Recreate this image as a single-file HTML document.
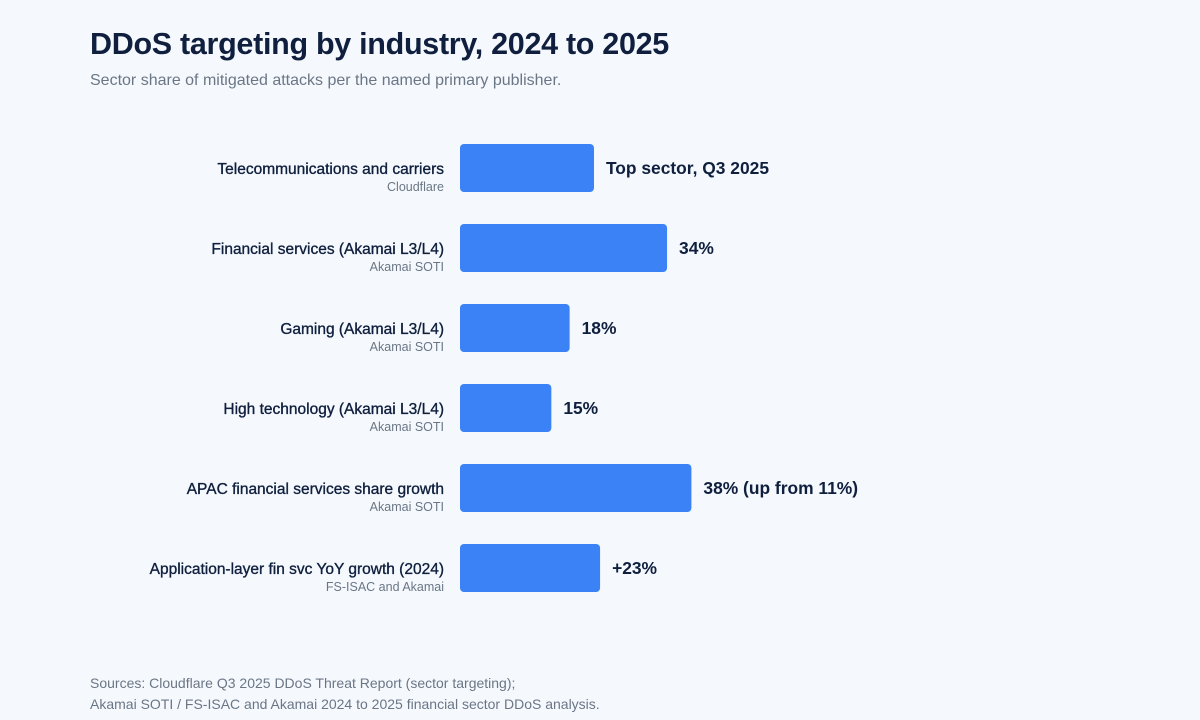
<!DOCTYPE html>
<html><head><meta charset="utf-8"><style>
html,body{margin:0;padding:0;}
body{width:1200px;height:720px;background:#f5f9fe;font-family:"Liberation Sans",Arial,sans-serif;position:relative;overflow:hidden;}
.title{position:absolute;left:90px;top:27px;font-size:30.5px;font-weight:bold;color:#0f1f3d;letter-spacing:-0.3px;margin:0;}
.sub{position:absolute;left:90px;top:72px;font-size:16px;color:#6b7685;}
.foot{position:absolute;left:90px;top:673px;font-size:14px;line-height:21px;color:#6b7685;}
svg{position:absolute;left:0;top:0;}
</style></head><body>
<h1 class="title">DDoS targeting by industry, 2024 to 2025</h1>
<div class="sub">Sector share of mitigated attacks per the named primary publisher.</div>
<svg id="chart" width="1200" height="720"></svg>
<div class="foot">Sources: Cloudflare Q3 2025 DDoS Threat Report (sector targeting);<br>Akamai SOTI / FS-ISAC and Akamai 2024 to 2025 financial sector DDoS analysis.</div>
<script>
const categories=["Telecommunications and carriers","Financial services (Akamai L3/L4)","Gaming (Akamai L3/L4)","High technology (Akamai L3/L4)","APAC financial services share growth","Application-layer fin svc YoY growth (2024)"];
const publishers=["Cloudflare","Akamai SOTI","Akamai SOTI","Akamai SOTI","Akamai SOTI","FS-ISAC and Akamai"];
const values=[22,34,18,15,38,23];
const valueLabels=["Top sector, Q3 2025","34%","18%","15%","38% (up from 11%)","+23%"];
const NS="http://www.w3.org/2000/svg";
const svg=document.getElementById('chart');
const x0=460,pxPer=6.09;
const xScale=v=>v*pxPer;
const yCenter=i=>168+i*80;
const barH=48;
function mk(tag,attrs,text){const e=document.createElementNS(NS,tag);for(const k in attrs)e.setAttribute(k,attrs[k]);if(text!==undefined)e.textContent=text;svg.appendChild(e);return e;}
categories.forEach((c,i)=>{
  const cy=yCenter(i),w=xScale(values[i]);
  const r=mk('rect',{x:x0,y:cy-barH/2,width:w,height:barH,rx:4,fill:'#3b82f6'});
  
  
  const t=mk('text',{x:444,y:cy+6,'text-anchor':'end','font-size':15.5,fill:'#0f1f3d',stroke:'#0f1f3d','stroke-width':0.35},c);
  
  
  const p=mk('text',{x:444,y:cy+23,'text-anchor':'end','font-size':12.5,fill:'#6b7685'},publishers[i]);
  
  
  const v=mk('text',{x:x0+w+12,y:cy+6,'font-size':17.4,'font-weight':'bold',fill:'#0f1f3d'},valueLabels[i]);
  
  
});
</script>
</body></html>
